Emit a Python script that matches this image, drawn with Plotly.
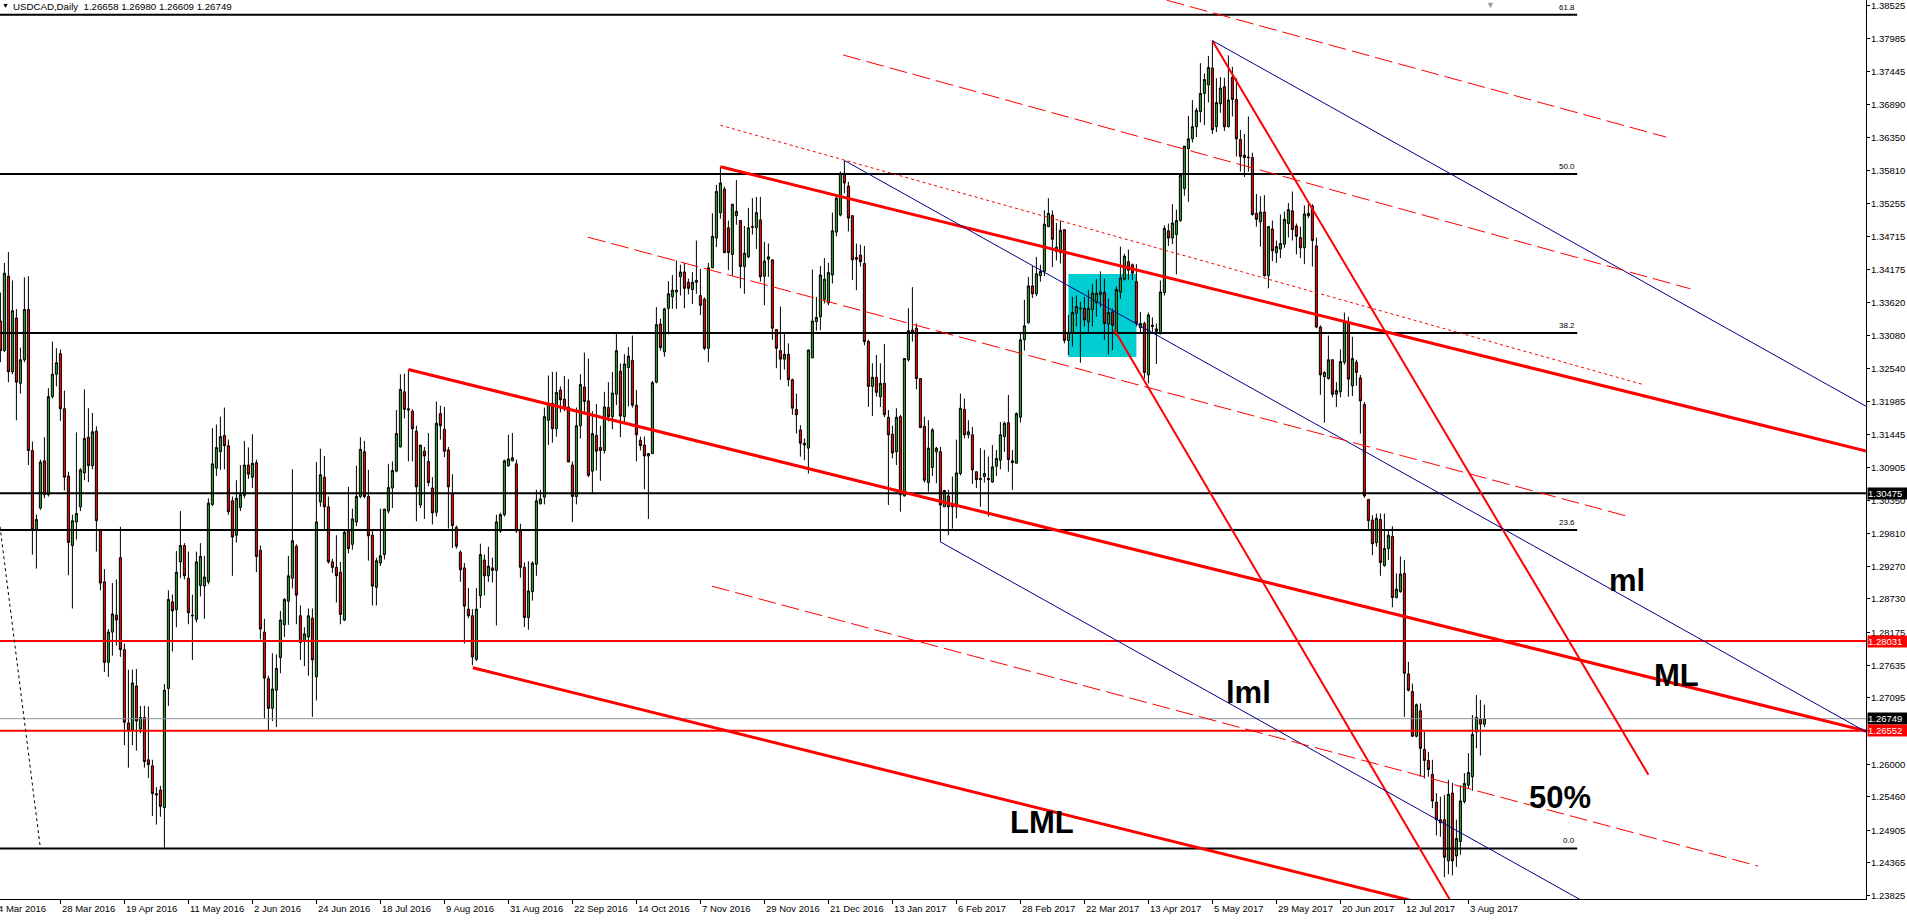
import numpy as np
import pandas as pd
import plotly.graph_objects as go

# ---------------- data ----------------
SYMBOL_TEXT = "USDCAD,Daily  1.26658 1.26980 1.26609 1.26749"
START_DATE = "2016-03-07"
END_DATE = "2017-08-09"
MISSING_DAYS = ["2016-12-26"]

OPEN = [1.3332,1.3283,1.3406,1.3248,1.3337,1.3229,1.3268,1.3351,1.3118,1.2987,
1.3023,1.3101,1.3045,1.3207,1.3244,1.3278,1.3187,1.3076,1.2961,1.3000,
1.3025,1.3081,1.3140,1.3093,1.3150,1.2987,1.2901,1.2768,1.2818,1.2846,
1.2941,1.2789,1.2668,1.2656,1.2729,1.2658,1.2677,1.2607,1.2597,1.2551,
1.2557,1.2528,1.2725,1.2868,1.2855,1.2934,1.2961,1.2907,1.2846,1.2839,
1.2895,1.2894,1.2901,1.3029,1.3089,1.3116,1.3143,1.3126,1.3035,1.2978,
1.3024,1.3044,1.3094,1.3074,1.3098,1.2953,1.2818,1.2741,1.2692,1.2722,
1.2776,1.2830,1.2869,1.2907,1.2960,1.2845,1.2803,1.2810,1.2841,1.2744,
1.3033,1.3074,1.3025,1.2934,1.2925,1.2917,1.2838,1.2985,1.2963,1.3000,
1.3042,1.3116,1.3042,1.2978,1.2892,1.2932,1.2946,1.3018,1.3056,1.3084,
1.3124,1.3215,1.3187,1.3183,1.3150,1.3028,1.3117,1.3100,1.3056,1.3016,
1.3179,1.3153,1.3119,1.3048,1.2991,1.2950,1.2924,1.2856,1.2845,1.2773,
1.2878,1.2937,1.2911,1.2924,1.2920,1.2985,1.3012,1.3093,1.3101,1.3096,
1.2985,1.2925,1.2842,1.2885,1.2930,1.3030,1.3041,1.3168,1.3196,1.3154,
1.3218,1.3203,1.3190,1.3094,1.3042,1.3159,1.3223,1.3200,1.3084,1.3143,
1.3123,1.3118,1.3189,1.3174,1.3211,1.3249,1.3174,1.3255,1.3267,1.3193,
1.3135,1.3127,1.3109,1.3113,1.3231,1.3327,1.3281,1.3353,1.3372,1.3380,
1.3405,1.3413,1.3396,1.3384,1.3396,1.3374,1.3368,1.3287,1.3420,1.3469,
1.3511,1.3550,1.3486,1.3442,1.3506,1.3498,1.3422,1.3438,1.3488,1.3486,
1.3499,1.3406,1.3434,1.3433,1.3318,1.3283,1.3269,1.3277,1.3235,1.3186,
1.3152,1.3130,1.3122,1.3271,1.3331,1.3339,1.3368,1.3362,1.3408,1.3479,
1.3507,1.3576,1.3555,1.3506,1.3437,1.3441,1.3427,1.3298,1.3224,1.3239,
1.3207,1.3229,1.3173,1.3145,1.3116,1.3174,1.3043,1.3268,1.3317,1.3320,
1.3237,1.3158,1.3065,1.3090,1.3116,1.3116,1.3025,1.3043,1.3028,1.3025,
1.3080,1.3186,1.3144,1.3144,1.3083,1.3072,1.3075,1.3072,1.3066,1.3092,
1.3102,1.3141,1.3164,1.3101,1.3097,1.3173,1.3301,1.3329,1.3390,1.3377,
1.3407,1.3414,1.3488,1.3507,1.3454,1.3445,1.3483,1.3300,1.3313,1.3345,
1.3352,1.3353,1.3331,1.3351,1.3362,1.3376,1.3379,1.3327,1.3347,1.3310,
1.3380,1.3401,1.3430,1.3425,1.3397,1.3321,1.3328,1.3243,1.3325,1.3319,
1.3311,1.3379,1.3481,1.3469,1.3475,1.3498,1.3551,1.3617,1.3633,1.3653,
1.3678,1.3708,1.3722,1.3750,1.3653,1.3691,1.3719,1.3653,1.3735,1.3698,
1.3632,1.3606,1.3603,1.3602,1.3510,1.3496,1.3512,1.3407,1.3484,1.3445,
1.3451,1.3459,1.3493,1.3514,1.3489,1.3470,1.3453,1.3510,1.3522,1.3456,
1.3322,1.3240,1.3237,1.3268,1.3211,1.3215,1.3264,1.3331,1.3225,1.3264,
1.3238,1.3194,1.3037,1.3003,1.2966,1.3004,1.2928,1.2956,1.2976,1.2875,
1.2885,1.2915,1.2749,1.2720,1.2646,1.2688,1.2624,1.2606,1.2583,1.2537,
1.2508,1.2508,1.2440,1.2552,1.2448,1.2472,1.2538,1.2565,1.2579,1.2653,
1.2674,1.26658]

HIGH = [1.3379,1.3428,1.3446,1.3399,1.3352,1.3288,1.3404,1.3406,1.3133,1.3012,
1.3103,1.3140,1.3221,1.3298,1.3287,1.3285,1.3217,1.3083,1.3012,1.3148,
1.3089,1.3219,1.3188,1.3180,1.3158,1.2988,1.2922,1.2823,1.2899,1.2905,
1.2992,1.2799,1.2756,1.2756,1.2757,1.2696,1.2696,1.2695,1.2607,1.2562,
1.2564,1.2732,1.2887,1.2880,1.2952,1.3018,1.2965,1.2951,1.2880,1.2951,
1.2965,1.2944,1.3039,1.3155,1.3161,1.3174,1.3189,1.3136,1.3042,1.3069,
1.3094,1.3134,1.3123,1.3145,1.3103,1.2961,1.2840,1.2746,1.2783,1.2781,
1.2853,1.2874,1.2944,1.3087,1.2963,1.2862,1.2826,1.2857,1.2857,1.3099,
1.3121,1.3109,1.3042,1.2939,1.2978,1.2934,1.2985,1.3058,1.3022,1.3093,
1.3140,1.3134,1.3086,1.2985,1.2941,1.3022,1.3022,1.3096,1.3100,1.3185,
1.3244,1.3245,1.3252,1.3186,1.3159,1.3127,1.3124,1.3147,1.3074,1.3199,
1.3192,1.3190,1.3124,1.3079,1.2994,1.2953,1.2932,1.2891,1.2856,1.2891,
1.2964,1.2946,1.2959,1.2941,1.3012,1.3015,1.3103,1.3144,1.3147,1.3103,
1.2997,1.2933,1.2935,1.2935,1.3053,1.3053,1.3189,1.3242,1.3248,1.3248,
1.3224,1.3241,1.3236,1.3100,1.3189,1.3244,1.3280,1.3270,1.3183,1.3195,
1.3159,1.3215,1.3231,1.3248,1.3314,1.3262,1.3277,1.3289,1.3308,1.3218,
1.3141,1.3141,1.3113,1.3233,1.3355,1.3336,1.3354,1.3398,1.3408,1.3432,
1.3425,1.3428,1.3402,1.3413,1.3465,1.3418,1.3371,1.3428,1.3510,1.3557,
1.3587,1.3554,1.3498,1.3525,1.3565,1.3498,1.3489,1.3519,1.3535,1.3537,
1.3537,1.3463,1.3460,1.3434,1.3318,1.3356,1.3313,1.3295,1.3237,1.3212,
1.3160,1.3138,1.3285,1.3417,1.3372,1.3423,1.3436,1.3428,1.3511,1.3540,
1.3579,1.3597,1.3562,1.3507,1.3460,1.3458,1.3456,1.3301,1.3262,1.3276,
1.3262,1.3294,1.3185,1.3159,1.3188,1.3177,1.3270,1.3353,1.3388,1.3328,
1.3237,1.3174,1.3168,1.3155,1.3124,1.3124,1.3053,1.3053,1.3075,1.3136,
1.3212,1.3204,1.3168,1.3157,1.3083,1.3122,1.3119,1.3108,1.3127,1.3119,
1.3165,1.3166,1.3210,1.3119,1.3181,1.3314,1.3367,1.3405,1.3423,1.3438,
1.3425,1.3515,1.3535,1.3515,1.3494,1.3498,1.3483,1.3342,1.3372,1.3374,
1.3364,1.3372,1.3383,1.3393,1.3401,1.3414,1.3402,1.3369,1.3353,1.3389,
1.3455,1.3443,1.3450,1.3427,1.3426,1.3347,1.3331,1.3346,1.3338,1.3328,
1.3399,1.3490,1.3493,1.3525,1.3516,1.3576,1.3621,1.3671,1.3697,1.3684,
1.3758,1.3741,1.3770,1.3795,1.3733,1.3735,1.3734,1.3771,1.3752,1.3733,
1.3648,1.3641,1.3670,1.3610,1.3542,1.3538,1.3540,1.3489,1.3498,1.3465,
1.3508,1.3513,1.3527,1.3546,1.3493,1.3488,1.3523,1.3525,1.3525,1.3470,
1.3325,1.3249,1.3308,1.3268,1.3231,1.3285,1.3346,1.3339,1.3306,1.3268,
1.3243,1.3198,1.3038,1.3011,1.3014,1.3014,1.3014,1.2987,1.2993,1.2915,
1.2943,1.2937,1.2769,1.2733,1.2700,1.2700,1.2653,1.2620,1.2607,1.2552,
1.2546,1.2549,1.2574,1.2569,1.2508,1.2565,1.2585,1.2618,1.2681,1.2714,
1.2706,1.26980]

LOW = [1.3264,1.3281,1.3231,1.3244,1.3168,1.3212,1.3264,1.3094,1.2946,1.2923,
1.3020,1.3039,1.3042,1.3204,1.3224,1.3167,1.3052,1.2912,1.2857,1.2971,
1.3018,1.3069,1.3066,1.3087,1.2951,1.2887,1.2752,1.2744,1.2779,1.2796,
1.2777,1.2631,1.2594,1.2631,1.2622,1.2651,1.2594,1.2577,1.2514,1.2500,
1.2513,1.2460,1.2696,1.2786,1.2826,1.2907,1.2905,1.2831,1.2772,1.2834,
1.2877,1.2840,1.2897,1.3026,1.3076,1.3086,1.3087,1.3012,1.2911,1.2966,
1.3018,1.3039,1.3071,1.3056,1.2917,1.2806,1.2675,1.2656,1.2671,1.2661,
1.2750,1.2810,1.2830,1.2890,1.2831,1.2772,1.2762,1.2746,1.2678,1.2705,
1.3025,1.2986,1.2931,1.2916,1.2867,1.2831,1.2836,1.2948,1.2954,1.2993,
1.3039,1.3039,1.2936,1.2862,1.2862,1.2927,1.2938,1.3014,1.3023,1.3082,
1.3123,1.3171,1.3100,1.3100,1.3001,1.3023,1.3005,1.3059,1.2996,1.3009,
1.3136,1.3107,1.2989,1.2957,1.2956,1.2901,1.2799,1.2841,1.2763,1.2770,
1.2858,1.2879,1.2901,1.2900,1.2829,1.2982,1.3009,1.3091,1.3100,1.2982,
1.2908,1.2826,1.2822,1.2870,1.2911,1.3029,1.3029,1.3127,1.3131,1.3141,
1.3181,1.3183,1.3099,1.3000,1.3029,1.3138,1.3180,1.3074,1.3048,1.3085,
1.3068,1.3113,1.3166,1.3153,1.3193,1.3140,1.3165,1.3191,1.3189,1.3100,
1.3118,1.3054,1.3005,1.3112,1.3229,1.3283,1.3273,1.3310,1.3352,1.3352,
1.3374,1.3353,1.3376,1.3360,1.3377,1.3342,1.3284,1.3264,1.3419,1.3454,
1.3501,1.3444,1.3416,1.3407,1.3491,1.3386,1.3377,1.3436,1.3475,1.3451,
1.3397,1.3358,1.3405,1.3301,1.3254,1.3235,1.3252,1.3224,1.3177,1.3146,
1.3108,1.3102,1.3080,1.3271,1.3316,1.3317,1.3361,1.3358,1.3394,1.3472,
1.3505,1.3543,1.3480,1.3400,1.3383,1.3422,1.3292,1.3190,1.3175,1.3207,
1.3190,1.3173,1.3028,1.3105,1.3094,1.3017,1.3042,1.3265,1.3298,1.3219,
1.3155,1.3065,1.3050,1.3076,1.3064,1.2967,1.3025,1.2978,1.2989,1.3006,
1.3077,1.3138,1.3138,1.3063,1.3056,1.3025,1.3065,1.3009,1.3065,1.3076,
1.3087,1.3116,1.3083,1.3053,1.3097,1.3164,1.3283,1.3328,1.3370,1.3373,
1.3397,1.3406,1.3487,1.3421,1.3432,1.3427,1.3295,1.3276,1.3290,1.3323,
1.3263,1.3323,1.3314,1.3323,1.3339,1.3355,1.3301,1.3277,1.3284,1.3308,
1.3369,1.3399,1.3400,1.3400,1.3323,1.3312,1.3237,1.3229,1.3314,1.3261,
1.3310,1.3374,1.3456,1.3459,1.3409,1.3496,1.3539,1.3529,1.3627,1.3636,
1.3660,1.3656,1.3693,1.3641,1.3644,1.3676,1.3646,1.3652,1.3670,1.3604,
1.3579,1.3570,1.3579,1.3506,1.3488,1.3455,1.3405,1.3386,1.3431,1.3428,
1.3436,1.3453,1.3470,1.3465,1.3442,1.3436,1.3426,1.3502,1.3422,1.3320,
1.3210,1.3164,1.3235,1.3206,1.3190,1.3206,1.3260,1.3207,1.3208,1.3225,
1.3146,1.3040,1.2985,1.2945,1.2959,1.2911,1.2926,1.2937,1.2859,1.2874,
1.2883,1.2678,1.2720,1.2645,1.2644,1.2579,1.2576,1.2579,1.2527,1.2482,
1.2480,1.2413,1.2418,1.2416,1.2430,1.2450,1.2535,1.2560,1.2556,1.2626,
1.2614,1.26609]

CLOSE = [1.3283,1.3411,1.3248,1.3349,1.3231,1.3268,1.3351,1.3118,1.2987,1.3004,
1.3099,1.3045,1.3207,1.3244,1.3263,1.3187,1.3074,1.2966,1.3002,1.3014,
1.3086,1.3138,1.3093,1.3149,1.3002,1.2899,1.2768,1.2818,1.2848,1.2838,
1.2789,1.2669,1.2655,1.2734,1.2671,1.2677,1.2604,1.2599,1.2551,1.2549,
1.2530,1.2722,1.2872,1.2853,1.2917,1.2961,1.2911,1.2850,1.2845,1.2934,
1.2943,1.2909,1.3031,1.3096,1.3123,1.3141,1.3126,1.3017,1.2975,1.3039,
1.3045,1.3094,1.3079,1.3097,1.2943,1.2823,1.2742,1.2692,1.2724,1.2758,
1.2838,1.2872,1.2911,1.2969,1.2879,1.2801,1.2815,1.2845,1.2772,1.3000,
1.3078,1.3025,1.2934,1.2925,1.2911,1.2847,1.2983,1.2956,1.3005,1.3042,
1.3120,1.3042,1.2977,1.2894,1.2936,1.2944,1.3021,1.3057,1.3085,1.3146,
1.3219,1.3186,1.3185,1.3154,1.3058,1.3127,1.3109,1.3065,1.3015,1.3163,
1.3159,1.3117,1.3058,1.2994,1.2960,1.2921,1.2861,1.2845,1.2777,1.2856,
1.2946,1.2911,1.2927,1.2920,1.3000,1.3012,1.3101,1.3104,1.3106,1.2985,
1.2925,1.2842,1.2886,1.2932,1.3035,1.3038,1.3174,1.3196,1.3154,1.3214,
1.3202,1.3187,1.3099,1.3042,1.3159,1.3227,1.3199,1.3077,1.3146,1.3117,
1.3118,1.3190,1.3174,1.3213,1.3283,1.3175,1.3261,1.3274,1.3193,1.3144,
1.3126,1.3109,1.3113,1.3230,1.3326,1.3288,1.3352,1.3377,1.3383,1.3383,
1.3413,1.3386,1.3386,1.3396,1.3399,1.3358,1.3287,1.3420,1.3472,1.3546,
1.3560,1.3445,1.3445,1.3525,1.3513,1.3422,1.3444,1.3486,1.3487,1.3511,
1.3405,1.3431,1.3438,1.3320,1.3287,1.3269,1.3277,1.3235,1.3188,1.3177,
1.3130,1.3127,1.3284,1.3332,1.3338,1.3408,1.3401,1.3412,1.3481,1.3535,
1.3576,1.3560,1.3502,1.3433,1.3434,1.3430,1.3298,1.3224,1.3239,1.3214,
1.3229,1.3177,1.3144,1.3114,1.3173,1.3045,1.3270,1.3316,1.3312,1.3237,
1.3156,1.3069,1.3122,1.3152,1.3122,1.3028,1.3052,1.3025,1.3025,1.3081,
1.3188,1.3144,1.3149,1.3086,1.3070,1.3070,1.3080,1.3070,1.3091,1.3105,
1.3144,1.3163,1.3103,1.3098,1.3179,1.3301,1.3324,1.3390,1.3377,1.3410,
1.3414,1.3492,1.3510,1.3467,1.3447,1.3482,1.3300,1.3313,1.3346,1.3356,
1.3353,1.3334,1.3353,1.3378,1.3378,1.3380,1.3328,1.3346,1.3325,1.3384,
1.3403,1.3439,1.3416,1.3411,1.3328,1.3328,1.3247,1.3342,1.3323,1.3315,
1.3380,1.3485,1.3469,1.3494,1.3498,1.3573,1.3621,1.3633,1.3653,1.3680,
1.3708,1.3731,1.3751,1.3648,1.3693,1.3717,1.3653,1.3697,1.3698,1.3633,
1.3604,1.3602,1.3602,1.3508,1.3500,1.3512,1.3407,1.3488,1.3448,1.3455,
1.3460,1.3500,1.3516,1.3483,1.3472,1.3453,1.3509,1.3506,1.3465,1.3322,
1.3243,1.3247,1.3268,1.3211,1.3217,1.3265,1.3331,1.3236,1.3270,1.3247,
1.3200,1.3043,1.3002,1.2964,1.3006,1.2933,1.2956,1.2978,1.2875,1.2889,
1.2914,1.2750,1.2722,1.2646,1.2698,1.2626,1.2606,1.2591,1.2539,1.2508,
1.2503,1.2446,1.2550,1.2440,1.2477,1.2539,1.2568,1.2586,1.2649,1.2677,
1.2666,1.26749]

TICK_DATES = ["2016-03-04", "2016-03-28", "2016-04-19", "2016-05-11", "2016-06-02",
              "2016-06-24", "2016-07-18", "2016-08-09", "2016-08-31", "2016-09-22",
              "2016-10-14", "2016-11-07", "2016-11-29", "2016-12-21", "2017-01-13",
              "2017-02-06", "2017-02-28", "2017-03-22", "2017-04-13", "2017-05-05",
              "2017-05-29", "2017-06-20", "2017-07-12", "2017-08-03"]

PRICE_TICKS = [1.38525, 1.37985, 1.37445, 1.36890, 1.36350, 1.35810, 1.35255, 1.34715,
               1.34175, 1.33620, 1.33080, 1.32540, 1.31985, 1.31445, 1.30905, 1.30350,
               1.29810, 1.29270, 1.28730, 1.28175, 1.27635, 1.27095, 1.26555, 1.26000,
               1.25460, 1.24905, 1.24365, 1.23825]

FIB_LOW = 1.24606
FIB_HIGH = 1.46894
FIB_RATIOS = [0.0, 23.6, 38.2, 50.0, 61.8]
FIB_END = 394.2

LEVEL_BLACK = 1.30475
LEVEL_RED = [1.28031, 1.26552]
BID = 1.26749

# trend lines: (bar0, price0, bar1, price1, color, width, dash)
TREND_LINES = [
    (180.0, 1.35870, 470.0, 1.31114, "#FF0000", 3, "solid"),      # upper median
    (102.0, 1.32520, 470.0, 1.26488, "#FF0000", 3, "solid"),      # ML
    (118.1, 1.27590, 470.0, 1.21822, "#FF0000", 3, "solid"),      # LML
    (303.0, 1.37952, 412.0, 1.25823, "#FF0000", 2, "solid"),      # steep from May high
    (278.5, 1.33171, 366.0, 1.23351, "#FF0000", 2, "solid"),      # steep parallel
    (211.1, 1.35969, 470.0, 1.26400, "#00008B", 1, "solid"),      # ml
    (303.0, 1.37952, 470.0, 1.31779, "#00008B", 1, "solid"),      # upper blue
    (235.0, 1.29670, 400.0, 1.23573, "#00008B", 1, "solid"),      # lml
    (280.0, 1.38830, 416.5, 1.36358, "#FF0000", 1, "18px,6px"),
    (210.7, 1.37715, 422.5, 1.33852, "#FF0000", 1, "18px,6px"),
    (180.0, 1.36554, 410.5, 1.32274, "#FF0000", 1, "3px,3px"),
    (146.9, 1.34705, 407.4, 1.30083, "#FF0000", 1, "18px,6px"),
    (177.9, 1.28938, 439.4, 1.24315, "#FF0000", 1, "18px,6px"),
    (-10.0, 1.35138, 10.0, 1.24606, "#000000", 1, "3px,3px"),
]

BOX = (267.0, 1.32725, 284.0, 1.34097)

LABELS = [("ml", 406.75, 1.29040), ("ML", 419.0, 1.27471), ("lml", 312.0, 1.27190),
          ("LML", 260.5, 1.25042), ("50%", 390.0, 1.25455)]

SHIFT_MARK_BAR = 372.5   # chart-shift marker position

# ---------------- build ----------------
n = len(OPEN)
xs = list(range(n))
X0, X1 = -0.1, 466.4
Y0, Y1 = 1.23770, 1.38624


def bar_pos(dstr):
    if dstr >= START_DATE:
        return int(np.busday_count(START_DATE, dstr, holidays=MISSING_DAYS))
    return -int(np.busday_count(dstr, START_DATE))


def fmt_date(dstr):
    d = pd.Timestamp(dstr)
    return f"{d.day} {d.strftime('%b %Y')}"


FONT = "Liberation Sans, Arial, sans-serif"
GREEN = "#21A621"

fig = go.Figure()
fig.add_trace(go.Candlestick(
    x=xs, open=OPEN, high=HIGH, low=LOW, close=CLOSE,
    increasing=dict(line=dict(color="black", width=1), fillcolor=GREEN),
    decreasing=dict(line=dict(color="black", width=1), fillcolor="#FF0000"),
    whiskerwidth=0, hoverinfo="skip", showlegend=False,
))

shapes = []
shapes.append(dict(type="rect", xref="x", yref="y", x0=BOX[0], y0=BOX[1], x1=BOX[2], y1=BOX[3],
                   fillcolor="#00CED1", line=dict(width=0), layer="below"))
for r in FIB_RATIOS:
    lvl = FIB_LOW + r / 100.0 * (FIB_HIGH - FIB_LOW)
    shapes.append(dict(type="line", xref="x", yref="y", x0=X0, x1=FIB_END, y0=lvl, y1=lvl,
                       line=dict(color="black", width=2), layer="above"))
shapes.append(dict(type="line", xref="paper", yref="y", x0=0, x1=1, y0=LEVEL_BLACK, y1=LEVEL_BLACK,
                   line=dict(color="black", width=2), layer="above"))
for lv in LEVEL_RED:
    shapes.append(dict(type="line", xref="paper", yref="y", x0=0, x1=1, y0=lv, y1=lv,
                       line=dict(color="#FF0000", width=2), layer="above"))
shapes.append(dict(type="line", xref="paper", yref="y", x0=0, x1=1, y0=BID, y1=BID,
                   line=dict(color="#8C96A0", width=1), layer="above"))
for (a0, p0, a1, p1, col, w, dash) in TREND_LINES:
    shapes.append(dict(type="line", xref="x", yref="y", x0=a0, y0=p0, x1=a1, y1=p1,
                       line=dict(color=col, width=w, dash=dash), layer="above"))

annotations = []
for d in TICK_DATES:
    p = bar_pos(d)
    annotations.append(dict(x=(p - X0) / (X1 - X0), y=0, xref="paper", yref="paper",
                            text=fmt_date(d), showarrow=False, xanchor="left", yanchor="top",
                            xshift=0, yshift=-2, font=dict(family=FONT, size=9.5, color="black")))
for v in PRICE_TICKS:
    annotations.append(dict(x=1, y=v, xref="paper", yref="y", text=f"{v:.5f}", showarrow=False,
                            xanchor="left", yanchor="middle", xshift=4, borderpad=0,
                            font=dict(family=FONT, size=9.5, color="black")))
for r in FIB_RATIOS:
    lvl = FIB_LOW + r / 100.0 * (FIB_HIGH - FIB_LOW)
    annotations.append(dict(x=FIB_END, y=lvl, xref="x", yref="y", text=f"{r:.1f}", showarrow=False,
                            xanchor="right", yanchor="bottom", yshift=1,
                            font=dict(family=FONT, size=8, color="black")))
for val, bg in [(LEVEL_BLACK, "black"), (LEVEL_RED[0], "#FF0000"), (BID, "black"), (LEVEL_RED[1], "#FF0000")]:
    annotations.append(dict(x=1, y=val, xref="paper", yref="y", text=f"{val:.5f}", showarrow=False,
                            xanchor="left", yanchor="middle", xshift=1, bgcolor=bg, borderpad=0,
                            width=40, align="left",
                            font=dict(family=FONT, size=9.5, color="white")))
for txt, bx, py in LABELS:
    annotations.append(dict(x=bx, y=py, xref="x", yref="y", text=f"<b>{txt}</b>", showarrow=False,
                            xanchor="center", yanchor="middle",
                            font=dict(family=FONT, size=31, color="black")))
annotations.append(dict(x=0, y=1, xref="paper", yref="paper", text="\u25BC", showarrow=False,
                        xanchor="left", yanchor="top", xshift=0, yshift=0,
                        font=dict(family=FONT, size=7, color="black")))
annotations.append(dict(x=0, y=1, xref="paper", yref="paper", text=SYMBOL_TEXT, showarrow=False,
                        xanchor="left", yanchor="top", xshift=11, yshift=1,
                        font=dict(family=FONT, size=9.7, color="black")))
annotations.append(dict(x=(SHIFT_MARK_BAR - X0) / (X1 - X0), y=1, xref="paper", yref="paper",
                        text="\u25BC", showarrow=False, xanchor="center", yanchor="top", yshift=2,
                        font=dict(family=FONT, size=9, color="#A0A0A0")))

tick_pos = [bar_pos(d) for d in TICK_DATES]

fig.update_layout(
    width=1907, height=921,
    margin=dict(l=0, r=41, t=0, b=22),
    paper_bgcolor="white", plot_bgcolor="white",
    shapes=shapes, annotations=annotations,
    showlegend=False, boxgap=0.25,
    xaxis=dict(range=[X0, X1], showgrid=False, zeroline=False, showline=True, linecolor="black",
               linewidth=1, ticks="outside", ticklen=4, tickcolor="black", tickvals=tick_pos,
               showticklabels=False, rangeslider=dict(visible=False), fixedrange=True),
    yaxis=dict(range=[Y0, Y1], side="right", showgrid=False, zeroline=False, showline=True,
               linecolor="black", linewidth=1, ticks="outside", ticklen=3, tickcolor="black",
               tickvals=PRICE_TICKS, showticklabels=False, fixedrange=True),
)

fig.write_html("out.html", config={"displayModeBar": False},
               post_script="document.body.style.margin='0';document.body.style.overflow='hidden';")
